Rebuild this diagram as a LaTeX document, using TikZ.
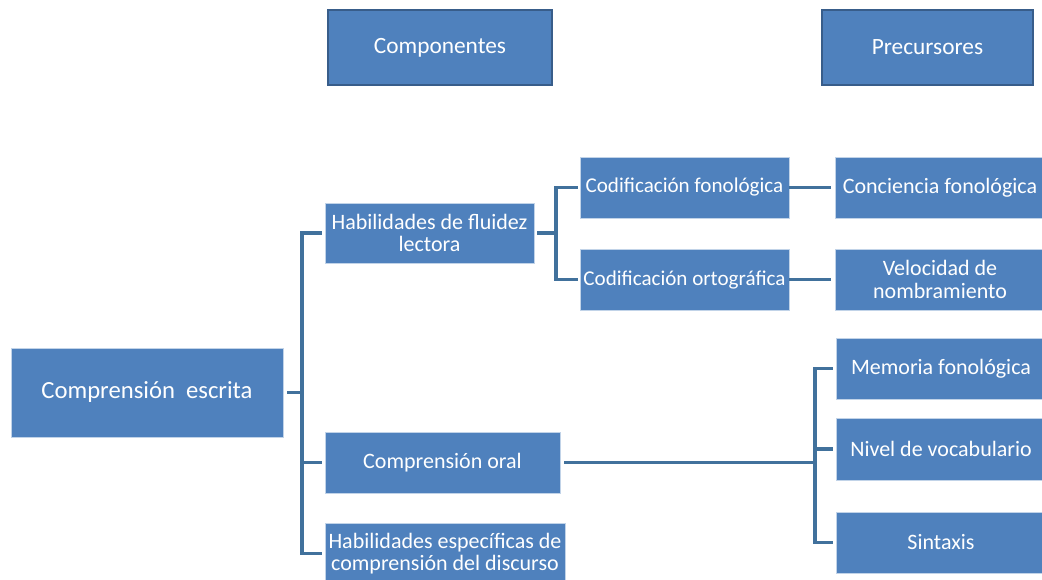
\documentclass[tikz,border=0pt]{standalone}
\usepackage{fontspec}
\setmainfont{Carlito}
\definecolor{boxblue}{HTML}{4F81BD}
\definecolor{boxedge}{HTML}{385D8A}
\definecolor{linkblue}{HTML}{41719C}
\tikzset{
  box/.style={draw=white!65!boxblue, line width=0.6pt, fill=boxblue, text=white,
    inner sep=0.5pt, align=center, font=\fontsize{16.5}{17}\selectfont},
  head/.style={box, draw=boxedge, line width=2pt, minimum width=#1, minimum height=56.25pt,
    font=\fontsize{17.5}{19}\selectfont},
  link/.style={draw=linkblue, line width=2.5pt},
}
\begin{document}
\begin{tikzpicture}[x=0.75pt,y=-0.75pt]
        \fill[white] (0,0) rectangle (1042,580);
        \useasboundingbox (0,0) rectangle (1042,580);

        \node[head=168pt]    (compon) at (440,47.5)  {Componentes};
        \node[head=158.25pt] (precur) at (927.5,47.5) {Precursores};

        \node[box, minimum width=204pt, minimum height=66.75pt, font=\fontsize{18.5}{20}\selectfont] (escrita) at (147,392.5) {Comprensión\ \ escrita};

        \node[box, minimum width=156.75pt, minimum height=45pt]    (fluidez)  at (429.5,233)   {Habilidades de fluidez\\lectora};
        \node[box, minimum width=176.25pt, minimum height=45.75pt] (oral)     at (442.5,462.5) {Comprensión oral};
        \node[box, minimum width=180pt,    minimum height=45.75pt] (discurso) at (445,553.5)   {Habilidades específicas de\\comprensión del discurso};

        \node[box, minimum width=156.75pt, minimum height=45.75pt, font=\fontsize{15.8}{17}\selectfont] (fono) at (684.5,187.5) {Codificación fonológica};
        \node[box, minimum width=156.75pt, minimum height=45.75pt, font=\fontsize{15.8}{17}\selectfont] (orto) at (684.5,279.5) {Codificación ortográfica};

        \node[box, minimum width=157.5pt, minimum height=45.75pt] (conciencia) at (940,188)   {Conciencia fonológica};
        \node[box, minimum width=157.5pt, minimum height=45.75pt] (velocidad)  at (940,279.5) {Velocidad de\\nombramiento};
        \node[box, minimum width=157.5pt, minimum height=45.75pt] (memoria)    at (941,368.5) {Memoria fonológica};
        \node[box, minimum width=157.5pt, minimum height=46.5pt]  (nivel)      at (941,449)   {Nivel de vocabulario};
        \node[box, minimum width=157.5pt, minimum height=45.75pt] (sintaxis)   at (941,542.5) {Sintaxis};

        \coordinate (busA) at (302,392.5);
        \coordinate (busB) at (556,233);
        \coordinate (busC) at (815,462.5);

        \draw[link] ([xshift=3pt]escrita.east) -- (busA);
        \draw[link, shorten >=2.25pt] (busA) |- (fluidez.west);
        \draw[link, shorten >=2.25pt] (busA) |- (oral.west);
        \draw[link, shorten >=2.25pt] (busA) |- (discurso.west);

        \draw[link] ([xshift=2pt]fluidez.east) -- (busB);
        \draw[link, shorten >=1.5pt] (busB) |- (fono.west);
        \draw[link, shorten >=1.5pt] (busB) |- (orto.west);

        \draw[link, shorten >=3pt] (fono.east) -- (fono.east -| conciencia.west);
        \draw[link, shorten >=3pt] (orto.east) -- (orto.east -| velocidad.west);

        \draw[link] ([xshift=3pt]oral.east) -- (busC);
        \draw[link, shorten >=2.25pt] (busC) |- (memoria.west);
        \draw[link, shorten >=2.25pt] (busC) |- (nivel.west);
        \draw[link, shorten >=2.25pt] (busC) |- (sintaxis.west);
\end{tikzpicture}
\end{document}
